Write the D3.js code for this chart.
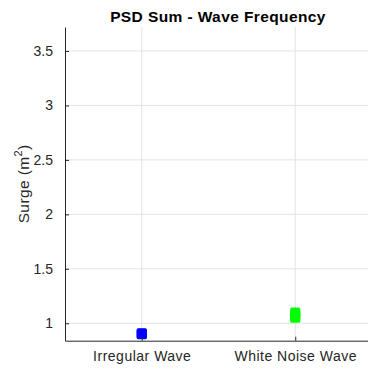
<!DOCTYPE html>
<html><head><meta charset="utf-8">
<script src="https://cdn.jsdelivr.net/npm/d3@7"></script>
<style>body{margin:0;background:#fff;} text{font-family:"Liberation Sans",Arial,sans-serif;}</style>
</head><body>
<svg id="c" width="368" height="371"></svg>
<script>
const categories = ["Irregular Wave", "White Noise Wave"];
const irregularValues = [0.899, 0.903, 0.908];
const whiteNoiseValues = [1.050, 1.065, 1.080, 1.100];
const seriesColors = ["#0000ff", "#00ff00"];
const yTicks = [1, 1.5, 2, 2.5, 3, 3.5];
const yTickLabels = ["1", "1.5", "2", "2.5", "3", "3.5"];

(function(){
const svg = d3.select("#c");
const mL = 65, mR = 372, mT = 27, mB = 340.7;
const x = d3.scaleLinear().domain([0.5, 2.5]).range([mL, mR]);
const y = d3.scaleLinear().domain([0.84, 3.72]).range([mB, mT]);

const g = svg.append("g");
g.selectAll("line.gy").data(yTicks).join("line")
  .attr("x1", mL).attr("x2", mR).attr("y1", d => y(d)).attr("y2", d => y(d))
  .attr("stroke", "#e3e3e3").attr("stroke-width", 1);
g.selectAll("line.gx").data(categories).join("line")
  .attr("x1", (d,i) => x(i+1)).attr("x2", (d,i) => x(i+1)).attr("y1", mT).attr("y2", mB)
  .attr("stroke", "#e3e3e3").attr("stroke-width", 1);

const series = [irregularValues, whiteNoiseValues];
series.forEach((vals, i) => {
  svg.append("g").selectAll("rect").data(vals).join("rect")
    .attr("x", x(i+1) - 5).attr("y", d => y(d) - 5)
    .attr("width", 10).attr("height", 10).attr("rx", 1.5)
    .attr("fill", seriesColors[i]);
});

const yAxis = d3.axisLeft(y).tickValues(yTicks).tickFormat((d,i) => yTickLabels[i]).tickSizeInner(-4).tickSizeOuter(0).tickPadding(12);
const ya = svg.append("g").attr("transform", `translate(${mL},0)`).call(yAxis);
ya.select(".domain").attr("stroke", "#262626");
ya.selectAll(".tick line").attr("stroke", "#262626");
ya.selectAll("text").attr("font-size", 14).attr("fill", "#262626");

const xAxis = d3.axisBottom(x).tickValues([1,2]).tickFormat((d,i) => categories[i]).tickSizeInner(-4).tickSizeOuter(0).tickPadding(10);
const xa = svg.append("g").attr("transform", `translate(0,${mB})`).call(xAxis);
xa.select(".domain").attr("stroke", "#262626");
xa.selectAll(".tick line").attr("stroke", "#262626");
xa.selectAll("text").attr("font-size", 14).attr("letter-spacing", 0.5).attr("fill", "#262626");

svg.append("text").attr("x", 218).attr("y", 22).attr("text-anchor", "middle")
  .attr("font-size", 15.5).attr("letter-spacing", 0.4).attr("font-weight", "bold").attr("fill", "#000").text("PSD Sum - Wave Frequency");

const yl = svg.append("text").attr("transform", `translate(29,${(mT+mB)/2}) rotate(-90)`)
  .attr("text-anchor", "middle").attr("font-size", 15.5).attr("letter-spacing", 0.4).attr("fill", "#262626");
yl.append("tspan").text("Surge (m");
yl.append("tspan").attr("font-size", 11).attr("dy", -7).text("2");
yl.append("tspan").attr("dy", 7).text(")");
})();
</script>
</body></html>
